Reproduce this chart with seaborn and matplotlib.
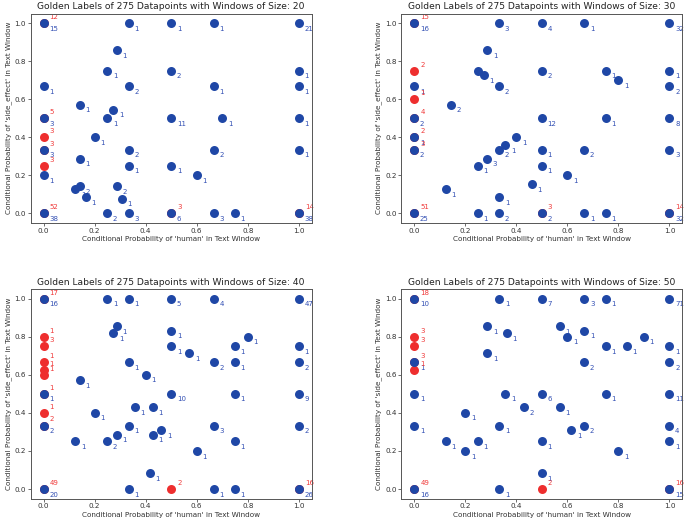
import pandas as pd
import matplotlib
matplotlib.use('Agg')
import matplotlib.pyplot as plt
import seaborn as sns

# Golden labels of 275 datapoints, binned by conditional probabilities.
# For every position: number of class-0 (blue) and class-1 (red) datapoints.
window_sizes = [20, 30, 40, 50]
n_datapoints = 275

# window size 20
x20 = [0, 1/3, 0.5, 2/3, 1, 2/7, 0.25, 0.5, 1, 0, 1/3, 2/3, 1, 1/7, 3/11,
       0, 0.25, 0.5, 0.7, 1, 0, 0.2, 0, 1/3, 2/3, 1, 0, 1/7, 1/3, 0.5,
       0, 0.6, 1/7, 1/8, 2/7, 1/6, 4/13, 0, 0.25, 1/3, 0.5, 2/3, 0.75, 1]
y20 = [1, 1, 1, 1, 1, 6/7, 0.75, 0.75, 0.75, 2/3, 2/3, 2/3, 2/3, 4/7, 6/11,
       0.5, 0.5, 0.5, 0.5, 0.5, 0.4, 0.4, 1/3, 1/3, 1/3, 1/3, 0.25, 2/7, 0.25, 0.25,
       0.2, 0.2, 1/7, 1/8, 1/7, 1/12, 1/13, 0, 0, 0, 0, 0, 0, 0]
blue20 = [15, 1, 1, 1, 21, 1, 1, 2, 1, 1, 2, 1, 1, 1, 1,
          3, 1, 11, 1, 1, 0, 1, 3, 2, 2, 1, 0, 1, 1, 1,
          1, 1, 2, 1, 2, 1, 1, 38, 2, 3, 6, 3, 1, 38]
red20 = [12, 0, 0, 0, 0, 0, 0, 0, 0, 0, 0, 0, 0, 0, 0,
         5, 0, 0, 0, 0, 3, 0, 3, 0, 0, 0, 3, 0, 0, 0,
         0, 0, 0, 0, 0, 0, 0, 52, 0, 0, 3, 0, 0, 14]

# window size 30
x30 = [0, 1/3, 0.5, 2/3, 1, 2/7, 0, 0.25, 3/11, 0.5, 0.75, 1, 0.8,
       0, 1/3, 1, 0, 1/7, 0, 0.5, 0.75, 1, 0, 0.4, 5/14,
       0, 1/3, 0.5, 2/3, 1, 2/7, 0.25, 0.5, 0.6, 6/13, 1/8, 1/3,
       0, 0.25, 1/3, 0.5, 2/3, 0.75, 1]
y30 = [1, 1, 1, 1, 1, 6/7, 0.75, 0.75, 8/11, 0.75, 0.75, 0.75, 0.7,
       2/3, 2/3, 2/3, 0.6, 4/7, 0.5, 0.5, 0.5, 0.5, 0.4, 0.4, 5/14,
       1/3, 1/3, 1/3, 1/3, 1/3, 2/7, 0.25, 0.25, 0.2, 2/13, 1/8, 1/12,
       0, 0, 0, 0, 0, 0, 0]
blue30 = [16, 3, 4, 1, 32, 1, 0, 1, 1, 2, 1, 1, 1,
          1, 2, 2, 0, 2, 2, 12, 1, 8, 1, 1, 1,
          2, 2, 1, 2, 3, 3, 1, 1, 1, 1, 1, 1,
          25, 1, 2, 2, 1, 1, 32]
red30 = [15, 0, 0, 0, 0, 0, 2, 0, 0, 0, 0, 0, 0,
         0, 0, 0, 1, 0, 4, 0, 0, 0, 2, 0, 0,
         3, 0, 0, 0, 0, 0, 0, 0, 0, 0, 0, 0,
         51, 0, 0, 3, 0, 0, 14]

# window size 40
x40 = [0, 0.25, 1/3, 0.5, 2/3, 1, 2/7, 3/11, 0.5, 0.8,
       0, 0, 0.5, 0.75, 1, 4/7, 0, 1/3, 2/3, 0.75, 1,
       0, 0, 0.4, 1/7, 0, 0.5, 0.75, 1, 5/14, 3/7, 0, 0.2,
       0, 1/3, 2/3, 1, 6/13, 2/7, 3/7, 1/8, 0.25, 0.75, 0.6, 5/12,
       0, 1/3, 0.5, 2/3, 0.75, 1]
y40 = [1, 1, 1, 1, 1, 1, 6/7, 9/11, 5/6, 0.8,
       0.8, 0.75, 0.75, 0.75, 0.75, 5/7, 2/3, 2/3, 2/3, 2/3, 2/3,
       0.625, 0.6, 0.6, 4/7, 0.5, 0.5, 0.5, 0.5, 3/7, 3/7, 0.4, 0.4,
       1/3, 1/3, 1/3, 1/3, 4/13, 2/7, 2/7, 0.25, 0.25, 0.25, 0.2, 1/12,
       0, 0, 0, 0, 0, 0]
blue40 = [16, 1, 1, 5, 4, 47, 1, 1, 1, 1,
          0, 0, 1, 1, 1, 1, 0, 1, 2, 1, 2,
          0, 0, 1, 1, 1, 10, 1, 9, 1, 1, 0, 1,
          2, 1, 3, 2, 1, 1, 1, 1, 2, 1, 1, 1,
          20, 1, 0, 1, 1, 26]
red40 = [17, 0, 0, 0, 0, 0, 0, 0, 0, 0,
         1, 3, 0, 0, 0, 0, 1, 0, 0, 0, 0,
         1, 1, 0, 0, 1, 0, 0, 0, 0, 0, 1, 0,
         2, 0, 0, 0, 0, 0, 0, 0, 0, 0, 0, 0,
         49, 0, 2, 0, 0, 16]

# window size 50
x50 = [0, 1/3, 0.5, 2/3, 0.75, 1, 2/7, 4/7, 2/3, 4/11,
       0, 0.6, 0.9, 0, 0.75, 5/6, 1, 2/7, 0, 2/3, 1, 0,
       0, 5/14, 0.5, 0.75, 1, 3/7, 4/7, 0.2,
       0, 1/3, 2/3, 1, 8/13, 1/8, 0.25, 0.5, 1, 0.2, 0.8, 0.5,
       0, 1/3, 0.5, 1]
y50 = [1, 1, 1, 1, 1, 1, 6/7, 6/7, 5/6, 9/11,
       0.8, 0.8, 0.8, 0.75, 0.75, 0.75, 0.75, 5/7, 2/3, 2/3, 2/3, 0.625,
       0.5, 0.5, 0.5, 0.5, 0.5, 3/7, 3/7, 0.4,
       1/3, 1/3, 1/3, 1/3, 4/13, 0.25, 0.25, 0.25, 0.25, 0.2, 0.2, 1/12,
       0, 0, 0, 0]
blue50 = [10, 1, 7, 3, 1, 71, 1, 1, 1, 1,
          0, 1, 1, 0, 1, 1, 1, 1, 1, 2, 2, 0,
          1, 1, 6, 1, 11, 2, 1, 1,
          1, 1, 2, 4, 1, 1, 1, 1, 1, 1, 1, 1,
          16, 1, 0, 15]
red50 = [18, 0, 0, 0, 0, 0, 0, 0, 0, 0,
         3, 0, 0, 3, 0, 0, 0, 0, 3, 0, 0, 1,
         0, 0, 0, 0, 0, 0, 0, 0,
         0, 0, 0, 0, 0, 0, 0, 0, 0, 0, 0, 0,
         49, 0, 2, 16]

panels = [(x20, y20, blue20, red20), (x30, y30, blue30, red30),
          (x40, y40, blue40, red40), (x50, y50, blue50, red50)]

BLUE_DOT = '#1f47a6'
BLUE_TXT = '#3350b4'
RED_DOT = '#ee2e2e'
RED_TXT = '#f03a3a'
FS = 5.0

fig, axes = plt.subplots(2, 2, figsize=(6.85, 5.22), dpi=100)
fig.subplots_adjust(left=0.045, right=0.996, bottom=0.045, top=0.974,
                    wspace=0.32, hspace=0.318)

for ax, size, (xs, ys, nb, nr) in zip(axes.flat, window_sizes, panels):
    df = pd.DataFrame({'human': xs, 'side_effect': ys, 'blue': nb, 'red': nr})
    red_df = df[df['red'] > 0]
    blue_df = df[df['blue'] > 0]

    sns.scatterplot(data=red_df, x='human', y='side_effect', color=RED_DOT,
                    s=42, linewidth=0, ax=ax, zorder=3)
    sns.scatterplot(data=blue_df, x='human', y='side_effect', color=BLUE_DOT,
                    s=42, linewidth=0, ax=ax, zorder=4)

    for _, r in blue_df.iterrows():
        ax.annotate(str(int(r['blue'])), (r['human'], r['side_effect']),
                    xytext=(4.0, -4.0), textcoords='offset points',
                    ha='left', va='center', color=BLUE_TXT, fontsize=FS, zorder=2)
    for _, r in red_df.iterrows():
        ax.annotate(str(int(r['red'])), (r['human'], r['side_effect']),
                    xytext=(4.3, 4.4), textcoords='offset points',
                    ha='left', va='center', color=RED_TXT, fontsize=FS, zorder=2)

    ax.set_xticks([0, 0.2, 0.4, 0.6, 0.8, 1.0])
    ax.set_yticks([0, 0.2, 0.4, 0.6, 0.8, 1.0])
    ax.margins(0.05)
    ax.set_title(f'Golden Labels of {n_datapoints} Datapoints with Windows of Size: {size}',
                 fontsize=6.6, color='#222222', pad=3)
    ax.set_xlabel("Conditional Probability of 'human' in Text Window",
                  fontsize=5.2, color='#333333', labelpad=2)
    ax.set_ylabel("Conditional Probability of 'side_effect' in Text Window",
                  fontsize=5.2, color='#333333', labelpad=2)
    ax.tick_params(labelsize=5.2, length=2, width=0.5, pad=1.5, colors='#333333')
    for sp in ax.spines.values():
        sp.set_linewidth(0.7)
        sp.set_color('#555555')

fig.savefig('out.png', dpi=100)
